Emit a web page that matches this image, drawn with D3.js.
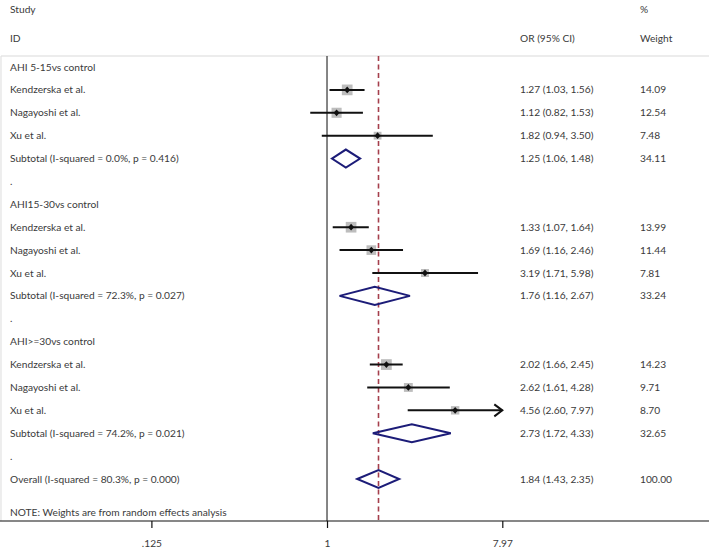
<!DOCTYPE html>
<html><head><meta charset="utf-8">
<script src="https://cdn.jsdelivr.net/npm/d3@7"></script>
<style>
body{margin:0;background:#fff;}
text{font-family:Lato,"Open Sans",sans-serif;fill:#3a3a3a;}
</style></head>
<body><svg id="c" width="709" height="550"></svg>
<script>
// ---- data ----
const labels = ["AHI 5-15vs control","Kendzerska et al.","Nagayoshi et al.","Xu et al.","Subtotal (I-squared = 0.0%, p = 0.416)",".",
  "AHI15-30vs control","Kendzerska et al.","Nagayoshi et al.","Xu et al.","Subtotal (I-squared = 72.3%, p = 0.027)",".",
  "AHI>=30vs control","Kendzerska et al.","Nagayoshi et al.","Xu et al.","Subtotal (I-squared = 74.2%, p = 0.021)",".",
  "Overall (I-squared = 80.3%, p = 0.000)"];
const rowType = ["h","s","s","s","d","b","h","s","s","s","d","b","h","s","s","s","d","b","d"];
const orVals = [null,1.27,1.12,1.82,1.25,null,null,1.33,1.69,3.19,1.76,null,null,2.02,2.62,4.56,2.73,null,1.84];
const lowVals = [null,1.03,0.82,0.94,1.06,null,null,1.07,1.16,1.71,1.16,null,null,1.66,1.61,2.60,1.72,null,1.43];
const highVals = [null,1.56,1.53,3.50,1.48,null,null,1.64,2.46,5.98,2.67,null,null,2.45,4.28,7.97,4.33,null,2.35];
const weights = [null,14.09,12.54,7.48,34.11,null,null,13.99,11.44,7.81,33.24,null,null,14.23,9.71,8.70,32.65,null,100.00];
const tickVals = [0.125,1,7.97];
const tickLabels = [".125","1","7.97"];
const overallOR = 1.84;

// ---- chart ----
const svg = d3.select("#c");
const fs = 10.2;
const x = d3.scaleLog().domain([0.125,7.97]).range([151.4,502.3]);
const y = d3.scaleLinear().domain([0,18]).range([67,479]);
const plotTop = 56, axisY = 521;
const navy = "#1c1c78";

// frame lines
svg.append("line").attr("x1",1).attr("x2",709).attr("y1",plotTop).attr("y2",plotTop).attr("stroke","#d9d9d9").attr("stroke-width",1.2);
svg.append("line").attr("x1",1).attr("x2",1).attr("y1",plotTop).attr("y2",axisY).attr("stroke","#e2e2e2").attr("stroke-width",1.2);

// headers
const hdr = [["Study",10,9],["ID",10,38],["OR (95% CI)",520,38],["%",640,9],["Weight",640,38]];
svg.selectAll("text.hdr").data(hdr).enter().append("text").attr("class","hdr")
  .attr("x",d=>d[1]).attr("y",d=>d[2]).attr("dy","0.35em").attr("font-size",fs).text(d=>d[0]);

// null line
svg.append("line").attr("x1",x(1)).attr("x2",x(1)).attr("y1",plotTop).attr("y2",axisY).attr("stroke","#222").attr("stroke-width",1.1);
// overall dashed line
svg.append("line").attr("x1",x(overallOR)).attr("x2",x(overallOR)).attr("y1",plotTop).attr("y2",axisY)
  .attr("stroke","#a53f4c").attr("stroke-width",1.6).attr("stroke-dasharray","5,3.5");

const rows = labels.map((l,i)=>({l,i,t:rowType[i],or:orVals[i],lo:lowVals[i],hi:highVals[i],w:weights[i]}));

// left labels
svg.selectAll("text.lab").data(rows).enter().append("text").attr("class","lab")
  .attr("x",10).attr("y",d=>y(d.i)).attr("dy","0.35em").attr("font-size",fs).text(d=>d.l);

const fmt = d3.format(".2f");
const est = rows.filter(d=>d.or!=null);
svg.selectAll("text.orc").data(est).enter().append("text").attr("class","orc")
  .attr("x",520).attr("y",d=>y(d.i)).attr("dy","0.35em").attr("font-size",fs)
  .text(d=>`${fmt(d.or)} (${fmt(d.lo)}, ${fmt(d.hi)})`);
svg.selectAll("text.wc").data(est).enter().append("text").attr("class","wc")
  .attr("x",640).attr("y",d=>y(d.i)).attr("dy","0.35em").attr("font-size",fs)
  .text(d=>fmt(d.w));

// studies
const studies = rows.filter(d=>d.t==="s");
const xMax = x.domain()[1];
svg.selectAll("rect.box").data(studies).enter().append("rect").attr("class","box")
  .each(function(d){
    const s = 2.85*Math.sqrt(d.w);
    d3.select(this).attr("x",x(d.or)-s/2).attr("y",y(d.i)-s/2).attr("width",s).attr("height",s);
  }).attr("fill","#bdbdbd");
svg.selectAll("line.ci").data(studies).enter().append("line").attr("class","ci")
  .attr("x1",d=>x(d.lo)).attr("x2",d=>x(Math.min(d.hi,xMax))).attr("y1",d=>y(d.i)).attr("y2",d=>y(d.i))
  .attr("stroke","#111").attr("stroke-width",2);
// arrows where CI reaches axis limit
svg.selectAll("path.arr").data(studies.filter(d=>d.hi>=xMax)).enter().append("path").attr("class","arr")
  .attr("d",d=>{const xe=x(xMax),yy=y(d.i);return `M${xe-8},${yy-6}L${xe},${yy}L${xe-8},${yy+6}`;})
  .attr("fill","none").attr("stroke","#111").attr("stroke-width",2);
svg.selectAll("path.pt").data(studies).enter().append("path").attr("class","pt")
  .attr("d",d=>{const cx=x(d.or),cy=y(d.i);return `M${cx-3},${cy}L${cx},${cy-3.4}L${cx+3},${cy}L${cx},${cy+3.4}Z`;})
  .attr("fill","#111");

// diamonds
const dias = rows.filter(d=>d.t==="d");
svg.selectAll("path.dia").data(dias).enter().append("path").attr("class","dia")
  .attr("d",d=>{const cy=y(d.i),h=9;return `M${x(d.lo)},${cy}L${x(d.or)},${cy-h}L${x(d.hi)},${cy}L${x(d.or)},${cy+h}Z`;})
  .attr("fill","none").attr("stroke",navy).attr("stroke-width",2);

// note
svg.append("text").attr("x",10).attr("y",512).attr("dy","0.35em").attr("font-size",fs).text("NOTE: Weights are from random effects analysis");

// axis
const ax = d3.axisBottom(x).tickValues(tickVals).tickFormat((d,i)=>tickLabels[i]).tickSize(7).tickSizeOuter(0);
const g = svg.append("g").attr("transform",`translate(0,${axisY})`).call(ax);
g.select(".domain").remove();
g.selectAll(".tick line").attr("stroke","#111").attr("stroke-width",1.2);
g.selectAll(".tick text").attr("font-size",fs).attr("font-family","Lato,'Open Sans',sans-serif").attr("fill","#3a3a3a").attr("dy","1.6em");
svg.append("line").attr("x1",0).attr("x2",709).attr("y1",axisY).attr("y2",axisY).attr("stroke","#111").attr("stroke-width",1.2);
</script></body></html>
